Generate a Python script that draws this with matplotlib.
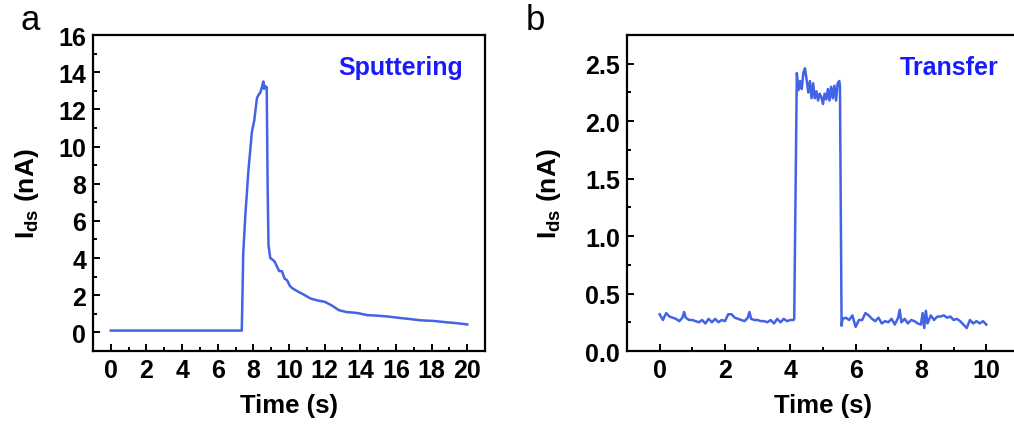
import matplotlib
matplotlib.use("Agg")
import matplotlib.pyplot as plt
from matplotlib.ticker import MultipleLocator

plt.rcParams["font.family"] = ["Liberation Sans", "DejaVu Sans"]
plt.rcParams["font.weight"] = "bold"
plt.rcParams["mathtext.fontset"] = "custom"
plt.rcParams["mathtext.rm"] = "Liberation Sans:bold"
plt.rcParams["mathtext.bf"] = "Liberation Sans:bold"
plt.rcParams["axes.linewidth"] = 1.6

LINE = "#4263e6"
TXT = "#1a1aff"

# ---- panel a: sputtering ----
t_a = [0.0, 3.0, 6.0, 7.35, 7.40, 7.43, 7.55, 7.73, 7.92, 8.05, 8.20, 8.30, 8.39,
       8.48, 8.56, 8.60, 8.62, 8.70, 8.75, 8.80, 8.85, 8.95, 9.10, 9.20, 9.30,
       9.45, 9.60, 9.75, 9.90, 10.05, 10.20, 10.50, 10.80, 11.20, 11.60, 12.00,
       12.40, 12.80, 13.20, 13.80, 14.40, 15.00, 15.60, 16.20, 16.80, 17.40,
       18.10, 18.80, 19.40, 20.0]
i_a = [0.10, 0.10, 0.10, 0.10, 2.5, 4.2, 6.3, 8.8, 10.8, 11.4, 12.6, 12.8, 12.9,
       13.2, 13.5, 13.1, 13.3, 13.2, 13.2, 8.0, 4.7, 4.0, 3.9, 3.8, 3.6,
       3.3, 3.3, 2.9, 2.8, 2.5, 2.37, 2.2, 2.05, 1.83, 1.72, 1.65,
       1.45, 1.2, 1.1, 1.05, 0.93, 0.9, 0.85, 0.78, 0.72, 0.65,
       0.62, 0.55, 0.5, 0.43]

# ---- panel b: transfer ----
t_b = [0.0, 0.1, 0.2, 0.3, 0.4, 0.5, 0.6, 0.7, 0.75, 0.8, 0.9, 1.0, 1.1, 1.2,
       1.3, 1.4, 1.5, 1.6, 1.7, 1.8, 1.9, 2.0, 2.1, 2.2, 2.3, 2.4, 2.5, 2.6,
       2.7, 2.75, 2.8, 2.9, 3.0, 3.1, 3.2, 3.3, 3.4, 3.5, 3.6, 3.7, 3.8, 3.9,
       4.0, 4.1, 4.12, 4.2, 4.25, 4.3, 4.35, 4.4, 4.45, 4.5, 4.55, 4.6, 4.65,
       4.7, 4.75, 4.8, 4.85, 4.9, 4.95, 5.0, 5.05, 5.1, 5.15, 5.2, 5.25, 5.3,
       5.35, 5.4, 5.45, 5.5, 5.52, 5.57, 5.6, 5.7, 5.8, 5.9, 6.0, 6.1, 6.2,
       6.3, 6.4, 6.5, 6.6, 6.7, 6.8, 6.9, 7.0, 7.1, 7.2, 7.3, 7.35, 7.4, 7.5,
       7.6, 7.7, 7.8, 7.9, 8.0, 8.05, 8.1, 8.15, 8.2, 8.3, 8.4, 8.5, 8.6, 8.7,
       8.8, 8.9, 9.0, 9.1, 9.2, 9.3, 9.4, 9.5, 9.6, 9.7, 9.8, 9.9, 10.0]
i_b = [0.32, 0.27, 0.33, 0.30, 0.29, 0.28, 0.26, 0.29, 0.34, 0.29, 0.27, 0.27,
       0.26, 0.25, 0.27, 0.24, 0.28, 0.25, 0.28, 0.25, 0.27, 0.26, 0.32, 0.32,
       0.29, 0.28, 0.27, 0.26, 0.29, 0.34, 0.28, 0.27, 0.27, 0.26, 0.26, 0.25,
       0.27, 0.24, 0.28, 0.25, 0.28, 0.26, 0.27, 0.27, 0.28, 2.42, 2.27, 2.35,
       2.28, 2.42, 2.46, 2.36, 2.25, 2.35, 2.20, 2.33, 2.20, 2.26, 2.18, 2.24,
       2.21, 2.15, 2.24, 2.19, 2.28, 2.18, 2.30, 2.20, 2.31, 2.18, 2.33, 2.35,
       2.30, 0.22, 0.28, 0.29, 0.27, 0.31, 0.21, 0.27, 0.27, 0.33, 0.31, 0.28,
       0.26, 0.29, 0.24, 0.26, 0.25, 0.28, 0.23, 0.29, 0.36, 0.25, 0.28, 0.24,
       0.27, 0.26, 0.24, 0.23, 0.33, 0.20, 0.35, 0.24, 0.31, 0.27, 0.30, 0.30,
       0.31, 0.29, 0.30, 0.27, 0.28, 0.26, 0.23, 0.20, 0.27, 0.24, 0.26, 0.24,
       0.26, 0.23]

fig = plt.figure(figsize=(10.14, 4.27), dpi=100)
ax_a = fig.add_axes([0.0917, 0.1756, 0.3866, 0.740])
ax_b = fig.add_axes([0.6183, 0.1756, 0.3866, 0.740])


def style(ax, ypad):
    ax.tick_params(which="both", direction="in", top=False, right=False,
                   width=1.4, labelsize=18)
    ax.tick_params(which="major", length=5, pad=5)
    ax.tick_params(which="minor", length=3)
    for lab in ax.get_xticklabels() + ax.get_yticklabels():
        lab.set_fontweight("bold")
    ax.set_xlabel("Time (s)", fontsize=18.5, fontweight="bold", labelpad=8)
    ax.set_ylabel(r"I$_{\mathrm{ds}}$ (nA)", fontsize=19, fontweight="bold",
                  labelpad=ypad)


ax_a.plot(t_a, i_a, color=LINE, lw=1.8)
ax_a.set_xlim(-1, 21)
ax_a.set_ylim(-1, 16)
ax_a.xaxis.set_major_locator(MultipleLocator(2))
ax_a.xaxis.set_minor_locator(MultipleLocator(1))
ax_a.yaxis.set_major_locator(MultipleLocator(2))
ax_a.yaxis.set_minor_locator(MultipleLocator(1))
style(ax_a, 12)
ax_a.text(0.944, 0.899, "Sputtering", transform=ax_a.transAxes, ha="right",
          va="center", color=TXT, fontsize=18, fontweight="bold")

ax_b.plot(t_b, i_b, color=LINE, lw=1.8)
ax_b.set_xlim(-1, 11)
ax_b.set_ylim(0, 2.75)
ax_b.xaxis.set_major_locator(MultipleLocator(2))
ax_b.xaxis.set_minor_locator(MultipleLocator(1))
ax_b.yaxis.set_major_locator(MultipleLocator(0.5))
ax_b.yaxis.set_minor_locator(MultipleLocator(0.25))
ax_b.yaxis.set_major_formatter(plt.FuncFormatter(lambda v, p: f"{v:.1f}"))
style(ax_b, 16)
ax_b.text(0.949, 0.899, "Transfer", transform=ax_b.transAxes, ha="right",
          va="center", color=TXT, fontsize=18, fontweight="bold")

fig.text(0.020, 0.99, "a", fontsize=25, fontweight="normal", va="top")
fig.text(0.518, 0.99, "b", fontsize=25, fontweight="normal", va="top")

fig.savefig("out.png", dpi=100)
